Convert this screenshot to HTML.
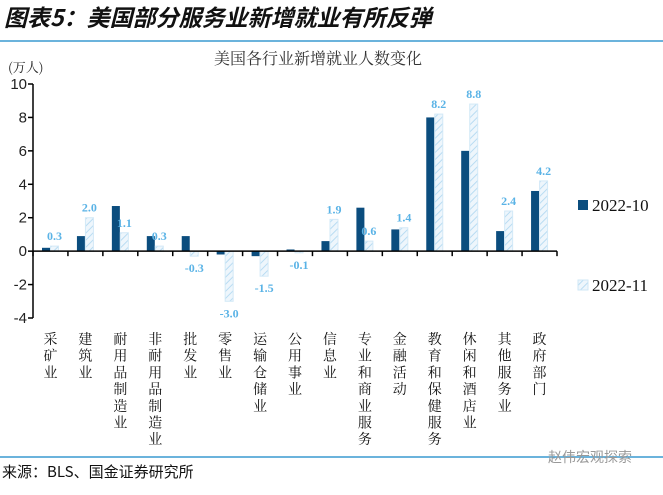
<!DOCTYPE html>
<html><head><meta charset="utf-8">
<style>
body{margin:0;background:#fff;width:663px;height:490px;overflow:hidden;font-family:"Liberation Sans","Noto Sans CJK SC",sans-serif}
</style></head>
<body>
<svg id="c" width="663" height="490" xmlns="http://www.w3.org/2000/svg">
<defs>
<pattern id="hatch" patternUnits="userSpaceOnUse" width="5" height="5" patternTransform="rotate(45)">
<rect width="5" height="5" fill="#eef6fc"/>
<line x1="0" y1="0" x2="0" y2="5" stroke="#b9dcf2" stroke-width="2"/>
</pattern>
</defs>
<text x="4" y="26" font-size="23" font-weight="bold" font-style="italic" fill="#111" font-family="'Noto Sans CJK SC',sans-serif">图表5：美国部分服务业新增就业有所反弹</text>
<line x1="0" y1="41" x2="663" y2="41" stroke="#3a9ad0" stroke-width="1.5"/>
<text x="318" y="64" font-size="16" text-anchor="middle" fill="#333" font-family="'Noto Serif CJK SC',serif">美国各行业新增就业人数变化</text>
<text x="8" y="72" font-size="13" fill="#222" font-family="'Noto Serif CJK SC',serif">(万人)</text>
<g id="plot"></g>
<rect x="578" y="200" width="10" height="10" fill="#0b4d7e"/>
<text x="592" y="211" font-size="17" fill="#111" font-family="'Liberation Serif',serif">2022-10</text>
<rect x="578" y="280" width="10" height="10" fill="url(#hatch)" stroke="#cfe7f6"/>
<text x="592" y="291" font-size="17" fill="#111" font-family="'Liberation Serif',serif">2022-11</text>
<line x1="0" y1="457" x2="663" y2="457" stroke="#3a9ad0" stroke-width="1.5"/>
<text x="2" y="477" font-size="15" fill="#111" font-family="'Noto Sans CJK SC',sans-serif">来源：BLS、国金证券研究所</text>
<text x="548" y="462" font-size="14" fill="#999" font-family="'Noto Sans CJK SC',sans-serif">赵伟宏观探索</text>
</svg>
<script>
const categories=["采矿业","建筑业","耐用品制造业","非耐用品制造业","批发业","零售业","运输仓储业","公用事业业","信息业","专业和商业服务","金融活动","教育和保健服务","休闲和酒店业","其他服务业","政府部门"];
const series1=[0.2,0.9,2.7,0.9,0.9,-0.2,-0.3,0.1,0.6,2.6,1.3,8.0,6.0,1.2,3.6];
const series2=[0.3,2.0,1.1,0.3,-0.3,-3.0,-1.5,-0.1,1.9,0.6,1.4,8.2,8.8,2.4,4.2];
const yTicks=[-4,-2,0,2,4,6,8,10];
categories[7]="公用事业";

const NS="http://www.w3.org/2000/svg";
const g=document.getElementById("plot");
const X0=33,X1=557,Y0=318,Y1=84,YMIN=-4,YMAX=10;
const y=v=>Y0-(v-YMIN)/(YMAX-YMIN)*(Y0-Y1);
const bw=(X1-X0)/categories.length;
const xc=i=>X0+bw*i;
function el(t,a){const e=document.createElementNS(NS,t);for(const k in a)e.setAttribute(k,a[k]);g.appendChild(e);return e;}

yTicks.forEach(t=>{
 const tk=el("line",{x1:X0-5,x2:X0,y1:y(t),y2:y(t),stroke:"#000","stroke-width":1.5});
 
 
 const lb=el("text",{x:X0-6,y:y(t)+5,"font-size":15,"text-anchor":"end",fill:"#222"});
 lb.textContent=t;
 
 
});
const ya=el("line",{x1:X0,x2:X0,y1:Y1,y2:Y0,stroke:"#000","stroke-width":1.5});



categories.forEach((c,i)=>{
 const x=xc(i);
 const v1=series1[i],v2=series2[i];
 const b1=el("rect",{x:x+9,y:Math.min(y(v1),y(0)),width:8,height:Math.abs(y(v1)-y(0)),fill:"#0b4d7e"});
 
 
 const b2=el("rect",{x:x+17.5,y:Math.min(y(v2),y(0)),width:8,height:Math.abs(y(v2)-y(0)),fill:"url(#hatch)",stroke:"#d3e9f7","stroke-width":1});
 
 
 const vl=el("text",{x:x+21.5,y:v2>=0?y(v2)-6:y(v2)+16,"font-size":12,"font-weight":"bold","text-anchor":"middle",fill:"#5ab3e6","font-family":"'Liberation Serif',serif"});
 vl.textContent=v2.toFixed(1);
 
 
 const lb=el("text",{"font-size":14,fill:"#111","font-family":"'Noto Serif CJK SC',serif","text-anchor":"middle"});
 
 
 [...c].forEach((ch,j)=>{const ts=document.createElementNS(NS,"tspan");ts.setAttribute("x",x+bw/2);ts.setAttribute("y",344+j*16.7);ts.textContent=ch;lb.appendChild(ts);});
});
for(let i=0;i<=categories.length;i++){
 const t=el("line",{x1:xc(i),x2:xc(i),y1:y(0),y2:y(0)+5,stroke:"#000","stroke-width":1.5});
 
 
}
const xa=el("line",{x1:X0,x2:X1,y1:y(0),y2:y(0),stroke:"#000","stroke-width":1.5});


</script>
</body></html>
